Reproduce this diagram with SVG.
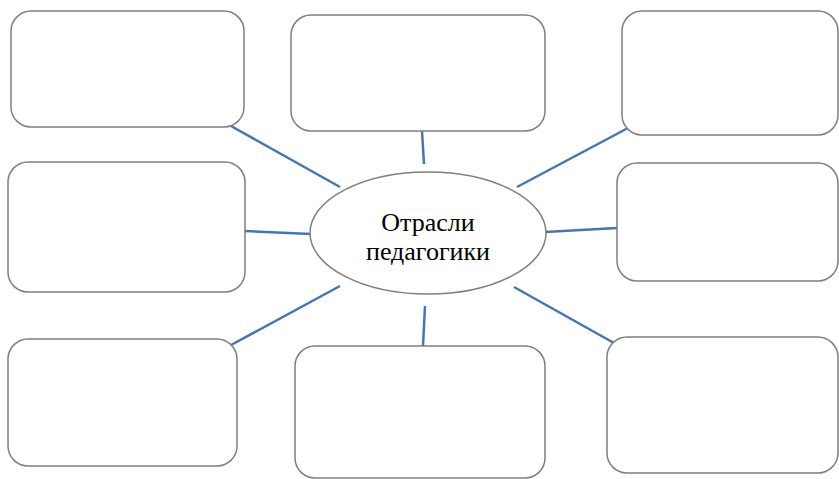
<svg xmlns="http://www.w3.org/2000/svg" width="839" height="479" viewBox="0 0 839 479">
<style>
.box{fill:#fff;stroke:#7f7f7f;stroke-width:1.5}
.ln{stroke:#4676b0;stroke-width:2.5;fill:none}
.t{font-family:"Liberation Serif","Times New Roman",serif;font-size:26px;fill:#000;text-anchor:middle}
</style>
<rect width="839" height="479" fill="#fff"/>
<g id="connectors">
<line class="ln" x1="231" y1="126" x2="340" y2="187"/>
<line class="ln" x1="422" y1="131" x2="424" y2="164"/>
<line class="ln" x1="628" y1="128" x2="517" y2="187"/>
<line class="ln" x1="245" y1="231" x2="311" y2="234"/>
<line class="ln" x1="545" y1="232" x2="617" y2="228"/>
<line class="ln" x1="231" y1="345" x2="340" y2="286"/>
<line class="ln" x1="425" y1="306" x2="423" y2="346"/>
<line class="ln" x1="514" y1="287" x2="614" y2="343"/>
</g>
<g id="box1"><rect class="box" x="11" y="11" width="233" height="116" rx="20"/></g>
<g id="box2"><rect class="box" x="291" y="15" width="254" height="116" rx="20"/></g>
<g id="box3"><rect class="box" x="622" y="11" width="216" height="124" rx="20"/></g>
<g id="box4"><rect class="box" x="8" y="162" width="237" height="130" rx="20"/></g>
<g id="box5"><rect class="box" x="617" y="163" width="221" height="118" rx="20"/></g>
<g id="box6"><rect class="box" x="8" y="339" width="229" height="127" rx="20"/></g>
<g id="box7"><rect class="box" x="295" y="346" width="250" height="132" rx="20"/></g>
<g id="box8"><rect class="box" x="607" y="337" width="231" height="136" rx="20"/></g>
<g id="center">
<ellipse cx="428" cy="233" rx="118" ry="61" fill="#fff" stroke="#7f7f7f" stroke-width="1.5"/>
<text class="t" x="428" y="231">Отрасли</text>
<text class="t" x="428" y="260">педагогики</text>
</g>
</svg>
